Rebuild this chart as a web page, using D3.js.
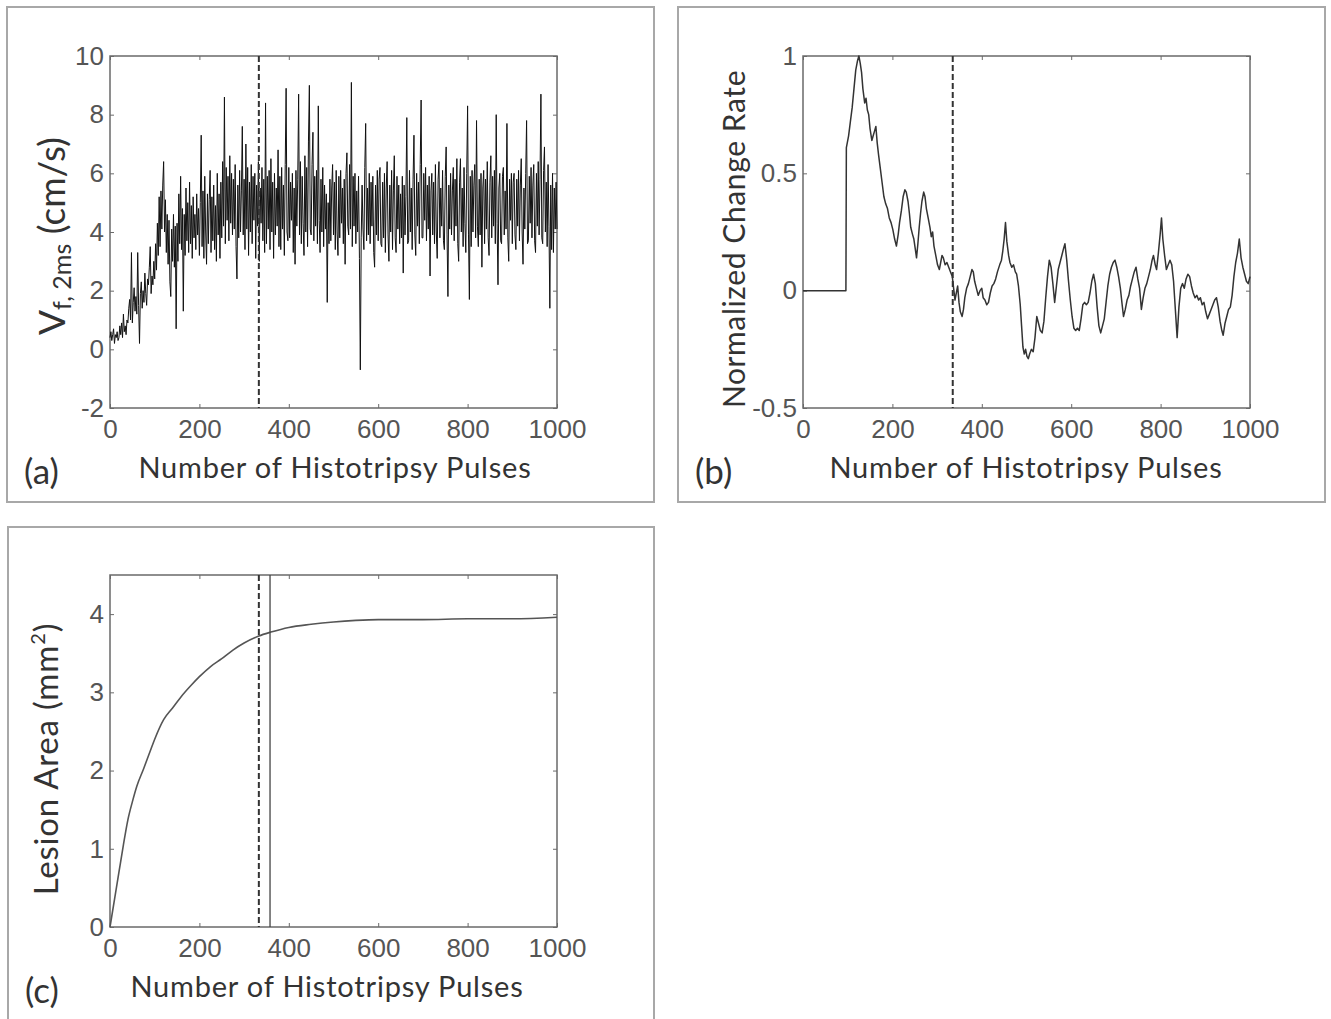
<!DOCTYPE html>
<html>
<head>
<meta charset="utf-8">
<script src="https://cdn.jsdelivr.net/npm/d3@7"></script>
<style>
  body { margin: 0; background: #fff; }
</style>
</head>
<body>
<div id="chart"></div>
<script>
// ---- data ----

// shared x axis
var xTicks = [0, 200, 400, 600, 800, 1000];

// (a) shear wave velocity, one reading every 2 pulses (0..1000), 50 pulses per row
var pulsesA = d3.range(0, 1001, 2);
var velocityA = [
  0.4, 0.6, 0.3, 0.5, 0.7, 0.2, 0.5, 0.4, 0.6, 0.3, 0.4, 0.8, 0.5, 0.9, 0.4, 1.2, 0.6, 0.8, 0.5, 1.0, 0.9, 1.4, 1.7, 1.0, 3.3,
  0.9, 1.6, 2.1, 1.3, 1.8, 1.2, 3.3, 1.5, 0.2, 1.9, 2.3, 1.4, 2.0, 1.6, 2.6, 1.9, 1.5, 2.4, 2.2, 2.8, 3.5, 1.9, 2.5, 2.2, 3.0,
  2.4, 3.6, 2.7, 4.3, 3.2, 5.2, 3.5, 5.4, 4.1, 5.6, 6.4, 4.0, 5.1, 3.3, 4.6, 2.9, 4.4, 2.3, 1.8, 4.1, 3.0, 4.6, 2.8, 4.2, 0.7,
  4.3, 3.0, 5.3, 3.6, 5.9, 3.4, 4.8, 1.3, 4.6, 3.2, 5.5, 3.7, 5.0, 3.3, 5.7, 3.6, 4.9, 3.1, 5.2, 3.8, 4.6, 3.4, 5.3, 3.9, 4.8,
  3.2, 5.0, 7.3, 3.5, 5.4, 3.1, 5.9, 4.0, 2.9, 5.3, 3.6, 5.1, 6.1, 3.3, 5.2, 3.7, 5.6, 3.4, 4.9, 3.0, 6.0, 3.9, 5.3, 3.1, 5.7,
  3.8, 6.4, 4.2, 8.6, 3.6, 6.2, 4.4, 5.9, 3.7, 6.6, 4.3, 6.0, 3.9, 5.8, 4.1, 6.3, 3.5, 2.4, 5.6, 3.8, 6.1, 4.0, 5.4, 7.6, 3.9,
  5.8, 3.4, 7.0, 4.1, 6.2, 3.2, 5.7, 4.0, 6.3, 3.6, 5.9, 4.4, 6.0, 3.1, 5.6, 4.2, 6.4, 3.0, 5.5, 4.3, 6.2, 3.7, 5.8, 3.3, 8.4,
  3.6, 5.9, 4.1, 6.1, 3.4, 6.5, 4.0, 5.7, 3.1, 6.0, 3.9, 5.5, 4.2, 6.8, 3.5, 5.9, 3.4, 6.2, 4.1, 5.6, 3.2, 6.3, 8.9, 4.0, 3.7,
  6.2, 3.8, 5.7, 4.4, 6.0, 3.3, 5.5, 2.9, 6.1, 4.2, 5.8, 8.7, 3.9, 6.4, 3.6, 5.9, 4.3, 3.2, 6.6, 4.0, 6.2, 3.5, 7.1, 9.0, 4.1,
  3.9, 6.3, 7.4, 3.7, 5.9, 4.2, 6.1, 3.6, 8.3, 4.4, 3.3, 5.8, 4.0, 6.2, 3.5, 5.6, 4.1, 5.3, 1.6, 5.0, 3.6, 5.8, 3.7, 5.5, 6.3,
  3.9, 5.7, 3.4, 6.1, 4.0, 3.2, 5.9, 3.8, 6.1, 4.3, 5.5, 3.6, 5.8, 2.9, 6.0, 6.7, 4.2, 3.9, 6.3, 4.1, 9.1, 3.5, 5.9, 4.2, 6.0,
  3.6, 5.4, 4.0, 5.9, 3.1, -0.7, 3.8, 5.6, 4.1, 3.4, 6.2, 7.7, 3.7, 5.5, 3.9, 6.0, 3.6, 5.7, 4.2, 5.9, 3.3, 2.8, 5.6, 3.9, 6.1,
  3.7, 5.8, 6.2, 3.6, 3.5, 5.7, 3.8, 6.0, 3.3, 5.5, 6.4, 3.9, 3.0, 5.6, 4.0, 6.1, 3.4, 5.4, 6.6, 3.8, 3.3, 5.9, 4.1, 5.6, 3.6,
  5.3, 3.8, 5.9, 2.6, 5.6, 3.9, 5.2, 7.9, 3.6, 3.7, 6.1, 4.0, 5.5, 3.4, 5.8, 7.3, 3.9, 3.2, 6.0, 4.2, 5.7, 3.6, 6.3, 8.5, 3.8,
  3.8, 6.0, 4.4, 6.2, 3.7, 5.6, 4.1, 5.9, 2.5, 5.4, 6.0, 3.9, 5.7, 3.6, 6.3, 4.0, 3.1, 5.8, 6.4, 3.8, 5.5, 4.2, 6.1, 3.7, 3.4,
  5.9, 6.9, 3.9, 1.8, 5.6, 4.1, 6.0, 3.9, 5.4, 6.2, 3.7, 5.8, 4.2, 6.5, 3.6, 3.0, 5.7, 6.5, 4.0, 5.5, 3.5, 6.2, 4.3, 3.3, 6.0,
  8.3, 3.9, 1.7, 5.9, 3.5, 6.1, 4.0, 5.6, 6.3, 3.8, 7.8, 4.2, 3.5, 5.8, 3.9, 6.0, 2.8, 5.5, 6.1, 3.6, 5.8, 4.1, 6.4, 3.8, 3.2,
  5.7, 6.6, 3.8, 5.9, 4.2, 6.1, 3.6, 8.0, 4.3, 2.2, 5.5, 6.0, 3.7, 3.6, 5.9, 6.2, 3.9, 5.4, 4.1, 7.7, 3.8, 3.0, 5.8, 4.4, 6.0,
  3.6, 5.7, 6.0, 3.9, 3.4, 5.8, 4.2, 6.1, 3.7, 5.6, 6.5, 4.0, 2.9, 5.5, 4.1, 6.0, 7.8, 3.6, 3.7, 5.9, 4.3, 6.2, 3.8, 5.6, 6.3,
  3.7, 3.3, 6.0, 4.2, 6.4, 3.9, 5.8, 8.7, 3.8, 3.6, 6.1, 6.9, 4.0, 5.7, 3.5, 6.3, 4.2, 1.4, 5.6, 3.4, 6.0, 3.3, 5.5, 4.1, 5.7,
  4.1
];

// (b) normalized change rate
var pulsesB = [0, 96, 97, 102, 106, 110, 114, 118, 122, 125, 128, 131, 134, 138, 141, 144, 147, 150, 154, 157, 160, 163, 166, 169,
  173, 177, 181, 185, 189, 193, 197, 201, 205, 209, 213, 216, 220, 224, 228, 231, 235, 238, 241, 245, 248, 251, 254, 257, 260,
  263, 266, 270, 273, 276, 280, 284, 287, 290, 293, 297, 301, 305, 308, 311, 314, 318, 322, 326, 330, 334, 337, 340, 343, 346,
  349, 352, 356, 359, 362, 366, 370, 374, 378, 381, 384, 388, 392, 396, 400, 403, 407, 411, 415, 419, 423, 427, 431, 435, 440,
  444, 447, 450, 453, 456, 460, 463, 467, 471, 475, 478, 482, 486, 489, 492, 495, 498, 501, 504, 507, 511, 515, 519, 523, 527,
  531, 535, 539, 543, 547, 551, 555, 559, 563, 567, 571, 575, 579, 583, 586, 590, 594, 598, 602, 606, 610, 614, 618, 622, 626,
  630, 634, 638, 642, 646, 650, 654, 658, 662, 666, 670, 674, 678, 682, 686, 690, 694, 698, 702, 706, 710, 714, 717, 721, 725,
  729, 733, 737, 741, 745, 749, 753, 757, 761, 765, 769, 773, 777, 781, 784, 788, 791, 795, 799, 802, 805, 809, 813, 817, 821,
  825, 829, 833, 837, 841, 845, 849, 853, 857, 861, 865, 869, 873, 877, 881, 885, 889, 893, 897, 901, 905, 909, 913, 917, 921,
  925, 929, 933, 937, 940, 944, 948, 952, 956, 960, 964, 968, 972, 976, 980, 984, 988, 992, 996, 1000];
var rateB = [0, 0, 0.61, 0.66, 0.72, 0.78, 0.86, 0.94, 0.98, 1.0, 0.97, 0.93, 0.86, 0.80, 0.82, 0.77, 0.75, 0.69, 0.64, 0.66, 0.68, 0.70, 0.63, 0.58,
  0.52, 0.46, 0.40, 0.37, 0.35, 0.31, 0.29, 0.26, 0.22, 0.19, 0.24, 0.29, 0.34, 0.40, 0.43, 0.42, 0.38, 0.33, 0.27, 0.24, 0.22, 0.18, 0.14, 0.20, 0.27,
  0.33, 0.38, 0.42, 0.40, 0.35, 0.31, 0.27, 0.23, 0.25, 0.19, 0.15, 0.11, 0.09, 0.12, 0.15, 0.14, 0.11, 0.12, 0.10, 0.08, 0.06, 0.01, -0.04, -0.01, 0.02,
  -0.05, -0.09, -0.11, -0.08, -0.03, 0.01, 0.03, 0.06, 0.09, 0.08, 0.04, 0.01, -0.02, 0.00, 0.01, -0.03, -0.04, -0.06, -0.05, -0.01, 0.02, 0.03, 0.05, 0.08, 0.11,
  0.13, 0.17, 0.22, 0.29, 0.21, 0.15, 0.12, 0.10, 0.11, 0.08, 0.07, 0.02, -0.06, -0.15, -0.24, -0.27, -0.25, -0.28, -0.29, -0.27, -0.25, -0.26, -0.20, -0.11, -0.14,
  -0.17, -0.18, -0.13, -0.03, 0.06, 0.13, 0.10, 0.03, -0.05, 0.02, 0.09, 0.12, 0.15, 0.18, 0.20, 0.13, 0.04, -0.04, -0.11, -0.16, -0.17, -0.16, -0.17, -0.12, -0.06,
  -0.05, -0.06, -0.05, -0.01, 0.04, 0.07, 0.03, -0.07, -0.15, -0.18, -0.15, -0.12, -0.05, 0.02, 0.07, 0.10, 0.12, 0.13, 0.10, 0.06, 0.01, -0.06, -0.11, -0.08, -0.04,
  -0.02, 0.02, 0.05, 0.08, 0.10, 0.05, 0.01, -0.08, -0.03, 0.01, 0.03, 0.06, 0.09, 0.13, 0.15, 0.11, 0.09, 0.16, 0.24, 0.31, 0.22, 0.15, 0.09, 0.11, 0.13,
  0.11, 0.04, -0.08, -0.20, -0.07, 0.01, 0.03, 0.01, 0.05, 0.07, 0.06, 0.02, -0.01, -0.03, -0.02, -0.04, -0.03, -0.06, -0.05, -0.09, -0.12, -0.10, -0.08, -0.06, -0.04,
  -0.03, -0.07, -0.13, -0.17, -0.19, -0.14, -0.11, -0.08, -0.07, -0.02, 0.06, 0.12, 0.16, 0.22, 0.14, 0.10, 0.07, 0.04, 0.03, 0.06];

// (c) lesion area
var pulsesC = [0, 10, 20, 30, 40, 50, 60, 75, 90, 100, 120, 140, 160, 180, 200, 225, 250, 275, 300, 333, 360, 400, 450, 500, 550, 600, 700, 800, 900, 1000];
var areaC = [0, 0.35, 0.7, 1.05, 1.37, 1.6, 1.8, 2.02, 2.25, 2.4, 2.65, 2.8, 2.95, 3.08, 3.2, 3.33, 3.43, 3.54, 3.63, 3.72, 3.77, 3.83, 3.87, 3.9, 3.92, 3.93, 3.93, 3.94, 3.94, 3.96];

// vertical markers (pulse numbers)
var dashedMarks = [333, 335, 333];
var solidMarkC = 358;

var yTicksA = [-2, 0, 2, 4, 6, 8, 10];
var yTicksB = [-0.5, 0, 0.5, 1];
var yTicksC = [0, 1, 2, 3, 4];

// ---- drawing ----
var svg = d3.select("#chart")
  .append("svg")
    .attr("width", 1331)
    .attr("height", 1019);

var labelFont = "Lato, 'Open Sans', sans-serif";
var tickFont = "'Liberation Sans', Arial, sans-serif";
var width = 447, height = 352;

function drawPanel(p) {
  // outer frame of the sub figure
  svg.append("rect")
    .attr("x", p.frame[0]).attr("y", p.frame[1])
    .attr("width", p.frame[2]).attr("height", p.frame[3])
    .attr("fill", "none")
    .attr("stroke", "#a8a8a8")
    .attr("stroke-width", 2);

  var g = svg.append("g")
    .attr("transform", "translate(" + p.left + "," + p.top + ")");

  var x = d3.scaleLinear().domain([0, 1000]).range([0, width]);
  var y = d3.scaleLinear().domain(p.yDomain).range([height, 0]);

  // axes, matlab style ticks pointing inwards
  var fmt = function(d) { return String(d); };
  var xb = g.append("g")
    .attr("transform", "translate(0," + height + ")")
    .call(d3.axisBottom(x).tickValues(xTicks).tickSize(-4).tickPadding(12).tickFormat(fmt));
  var yl = g.append("g")
    .call(d3.axisLeft(y).tickValues(p.yTicks).tickSize(-4).tickPadding(6).tickFormat(fmt));
  var xt = g.append("g")
    .call(d3.axisTop(x).tickValues(xTicks).tickSize(-4).tickFormat(""));
  var yr = g.append("g")
    .attr("transform", "translate(" + width + ",0)")
    .call(d3.axisRight(y).tickValues(p.yTicks).tickSize(-4).tickFormat(""));

  [xb, yl, xt, yr].forEach(function(a) {
    a.attr("color", "#6a6a6a");
    a.select(".domain").remove();
    a.selectAll("text")
      .attr("font-family", tickFont)
      .attr("font-size", "26px")
      .attr("fill", "#555");
  });

  // box
  g.append("rect")
    .attr("width", width).attr("height", height)
    .attr("fill", "none")
    .attr("stroke", "#6a6a6a")
    .attr("stroke-width", 1.5);

  // data line
  var line = d3.line()
    .x(function(d) { return x(d[0]); })
    .y(function(d) { return y(d[1]); });
  if (p.smooth) line.curve(d3.curveMonotoneX);
  g.append("path")
    .datum(d3.zip(p.xs, p.ys))
    .attr("fill", "none")
    .attr("stroke", p.color)
    .attr("stroke-width", p.lineWidth)
    .attr("stroke-linejoin", "round")
    .attr("d", line);

  // dashed marker
  g.append("line")
    .attr("x1", x(p.dashed)).attr("x2", x(p.dashed))
    .attr("y1", 0).attr("y2", height)
    .attr("stroke", "#333")
    .attr("stroke-width", 2)
    .attr("stroke-dasharray", "6,3");

  if (p.solid != null) {
    g.append("line")
      .attr("x1", x(p.solid)).attr("x2", x(p.solid))
      .attr("y1", 0).attr("y2", height)
      .attr("stroke", "#444")
      .attr("stroke-width", 1.3);
  }

  // x title
  g.append("text")
    .attr("x", p.xTitleX)
    .attr("y", height + 70)
    .attr("text-anchor", "middle")
    .attr("font-family", labelFont)
    .attr("font-size", "29px")
    .attr("letter-spacing", "0.8px")
    .attr("fill", "#333")
    .text("Number of Histotripsy Pulses");

  // panel letter
  svg.append("text")
    .attr("x", p.frame[0] + 17)
    .attr("y", p.top + height + 76)
    .attr("font-family", labelFont)
    .attr("font-size", "35px")
    .attr("fill", "#333")
    .text(p.letter);

  // y title
  var yt = g.append("text")
    .attr("transform", "rotate(-90)")
    .attr("x", -p.yTitleY)
    .attr("y", p.yTitleX)
    .attr("text-anchor", "middle")
    .attr("font-family", labelFont)
    .attr("font-size", p.yTitleSize)
    .attr("letter-spacing", p.yTitleSpacing || "0px")
    .attr("fill", "#333");
  p.yTitle(yt);
}

drawPanel({
  frame: [7, 7, 647, 495], left: 110, top: 56,
  yDomain: [-2, 10], yTicks: yTicksA,
  xs: pulsesA, ys: velocityA, color: "#111", lineWidth: 1.0,
  dashed: dashedMarks[0], letter: "(a)", xTitleX: 225,
  yTitleX: -45, yTitleY: 180, yTitleSize: "37px",
  yTitle: function(t) {
    t.append("tspan").text("V");
    t.append("tspan").attr("font-size", "25px").attr("dy", "6").text("f, 2ms");
    t.append("tspan").attr("dy", "-6").text(" (cm/s)");
  }
});

drawPanel({
  frame: [678, 7, 647, 495], left: 803, top: 56,
  yDomain: [-0.5, 1], yTicks: yTicksB,
  xs: pulsesB, ys: rateB, color: "#333", lineWidth: 1.5,
  dashed: dashedMarks[1], letter: "(b)", xTitleX: 223,
  yTitleX: -58, yTitleY: 183, yTitleSize: "30px", yTitleSpacing: "0.6px",
  yTitle: function(t) { t.text("Normalized Change Rate"); }
});

drawPanel({
  frame: [8, 527, 646, 520], left: 110, top: 575,
  yDomain: [0, 4.5], yTicks: yTicksC,
  xs: pulsesC, ys: areaC, color: "#555", lineWidth: 1.6, smooth: true,
  dashed: dashedMarks[2], solid: solidMarkC, letter: "(c)", xTitleX: 217,
  yTitleX: -52, yTitleY: 184, yTitleSize: "33px", yTitleSpacing: "0.8px",
  yTitle: function(t) {
    t.append("tspan").text("Lesion Area (mm");
    t.append("tspan").attr("font-size", "20px").attr("dy", "-13").text("2");
    t.append("tspan").attr("dy", "13").text(")");
  }
});
</script>
</body>
</html>
